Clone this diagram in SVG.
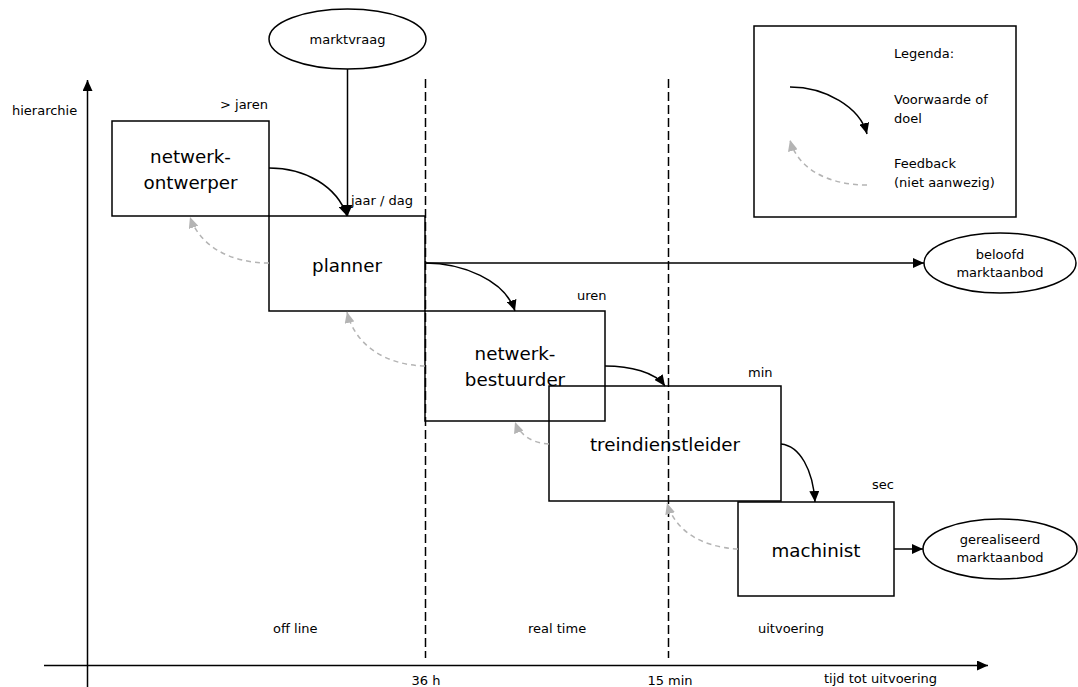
<svg xmlns="http://www.w3.org/2000/svg" width="1078" height="687" viewBox="0 0 1078 687">
<style>
text{font-family:"DejaVu Sans",Verdana,sans-serif;fill:#000}
.s{font-size:13px}
.b{font-size:18.3px}
.box{fill:none;stroke:#000;stroke-width:1.5}
.ell{fill:#fff;stroke:#000;stroke-width:1.5}
.ln{fill:none;stroke:#000;stroke-width:1.5}
.fb{fill:none;stroke:#b4b4b4;stroke-width:1.5;stroke-dasharray:5,4}
.div{fill:none;stroke:#000;stroke-width:1.5;stroke-dasharray:9,4}
</style>
<defs>
<marker id="ah" markerUnits="userSpaceOnUse" markerWidth="12" markerHeight="10" refX="11" refY="5" orient="auto"><path d="M0,0 L11,5 L0,10 Z" fill="#000"/></marker>
<marker id="ag" markerUnits="userSpaceOnUse" markerWidth="12" markerHeight="10" refX="11" refY="5" orient="auto"><path d="M0,0 L11,5 L0,10 Z" fill="#b4b4b4"/></marker>
</defs>
<rect width="1078" height="687" fill="#fff"/>
<g id="axes">
<line class="ln" x1="87.5" y1="687" x2="87.5" y2="80" marker-end="url(#ah)"/>
<line class="ln" x1="44" y1="665.5" x2="988" y2="665.5" marker-end="url(#ah)"/>
<line class="div" x1="425.5" y1="79" x2="425.5" y2="658"/>
<line class="div" x1="668.5" y1="79" x2="668.5" y2="658"/>
<text class="s" x="12" y="115">hierarchie</text>
<text class="s" x="273" y="633">off line</text>
<text class="s" x="528" y="633">real time</text>
<text class="s" x="758" y="633">uitvoering</text>
<text class="s" x="426" y="685" text-anchor="middle">36 h</text>
<text class="s" x="670" y="685" text-anchor="middle">15 min</text>
<text class="s" x="824" y="683">tijd tot uitvoering</text>
</g>
<g id="marktvraag">
<ellipse class="ell" cx="347.5" cy="39" rx="78.5" ry="30"/>
<text class="s" x="347.5" y="44" text-anchor="middle">marktvraag</text>
</g>
<g id="netwerkontwerper">
<rect class="box" x="112" y="121" width="157" height="95"/>
<text class="b" x="190.5" y="163" text-anchor="middle">netwerk-</text>
<text class="b" x="190.5" y="189" text-anchor="middle">ontwerper</text>
<text class="s" x="220" y="109">&gt; jaren</text>
</g>
<g id="planner">
<rect class="box" x="269" y="216" width="156" height="95"/>
<text class="b" x="347" y="272" text-anchor="middle">planner</text>
<text class="s" x="351" y="205">jaar / dag</text>
</g>
<g id="netwerkbestuurder">
<rect class="box" x="425" y="311" width="180" height="110"/>
<text class="b" x="515" y="360" text-anchor="middle">netwerk-</text>
<text class="b" x="515" y="386" text-anchor="middle">bestuurder</text>
<text class="s" x="577" y="300">uren</text>
</g>
<g id="treindienstleider">
<rect class="box" x="549" y="386" width="232" height="115"/>
<text class="b" x="665" y="451" text-anchor="middle">treindienstleider</text>
<text class="s" x="748" y="377">min</text>
</g>
<g id="machinist">
<rect class="box" x="738" y="502" width="156" height="94"/>
<text class="b" x="816" y="557" text-anchor="middle">machinist</text>
<text class="s" x="872" y="489">sec</text>
</g>
<g id="beloofd">
<ellipse class="ell" cx="1000" cy="263" rx="76" ry="30"/>
<text class="s" x="1000" y="259" text-anchor="middle">beloofd</text>
<text class="s" x="1000" y="277" text-anchor="middle">marktaanbod</text>
</g>
<g id="gerealiseerd">
<ellipse class="ell" cx="1000" cy="549" rx="77" ry="30"/>
<text class="s" x="1000" y="544" text-anchor="middle">gerealiseerd</text>
<text class="s" x="1000" y="562" text-anchor="middle">marktaanbod</text>
</g>
<g id="legenda">
<rect class="box" x="754" y="26" width="262" height="191"/>
<text class="s" x="894" y="58">Legenda:</text>
<text class="s" x="894" y="104">Voorwaarde of</text>
<text class="s" x="894" y="123">doel</text>
<text class="s" x="894" y="168">Feedback</text>
<text class="s" x="894" y="187">(niet aanwezig)</text>
<path class="ln" d="M790,87 C825,87 860,107 867,134" marker-end="url(#ah)"/>
<path class="fb" d="M867,185 C830,185 798,170 790,140" marker-end="url(#ag)"/>
</g>
<g id="connectors">
<line class="ln" x1="347.5" y1="69" x2="347.5" y2="216" marker-end="url(#ah)"/>
<path class="ln" d="M269,168 C305,168 337,186 347,216" marker-end="url(#ah)"/>
<line class="ln" x1="425" y1="263" x2="924" y2="263" marker-end="url(#ah)"/>
<path class="ln" d="M425,263 C462,263 505,280 515,311" marker-end="url(#ah)"/>
<path class="ln" d="M605,366 C630,366 655,372 665,386" marker-end="url(#ah)"/>
<path class="ln" d="M781,444 C800,446 813,470 815,502" marker-end="url(#ah)"/>
<line class="ln" x1="894" y1="549" x2="923" y2="549" marker-end="url(#ah)"/>
<path class="fb" d="M269,263 C230,263 200,246 190,217" marker-end="url(#ag)"/>
<path class="fb" d="M425,366 C385,365 355,345 347,312" marker-end="url(#ag)"/>
<path class="fb" d="M549,444 C530,443 519,433 515,422" marker-end="url(#ag)"/>
<path class="fb" d="M738,549 C700,547 675,530 667,503" marker-end="url(#ag)"/>
</g>
</svg>
